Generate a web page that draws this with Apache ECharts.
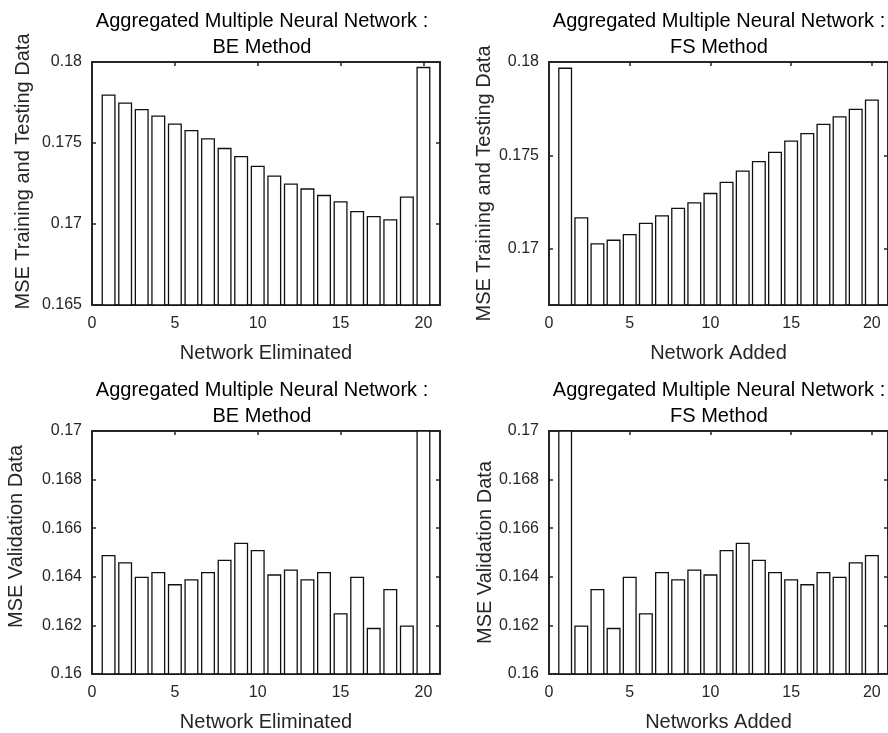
<!DOCTYPE html>
<html>
<head>
<meta charset="utf-8">
<script src="https://cdn.jsdelivr.net/npm/echarts@6/dist/echarts.min.js"></script>
<style>
  html, body { margin: 0; padding: 0; background: #fff; }
  #chart { width: 888px; height: 733px; }
</style>
</head>
<body>
<div id="chart"></div>
<script>
// network index on the x axis
const networks = [1, 2, 3, 4, 5, 6, 7, 8, 9, 10, 11, 12, 13, 14, 15, 16, 17, 18, 19, 20];

// MSE training + testing
const beTrainTest = [0.1780, 0.1775, 0.1771, 0.1767, 0.1762, 0.1758, 0.1753, 0.1747, 0.1742, 0.1736,
                     0.1730, 0.1725, 0.1722, 0.1718, 0.1714, 0.1708, 0.1705, 0.1703, 0.1717, 0.1797];
const fsTrainTest = [0.1797, 0.1717, 0.1703, 0.1705, 0.1708, 0.1714, 0.1718, 0.1722, 0.1725, 0.1730,
                     0.1736, 0.1742, 0.1747, 0.1752, 0.1758, 0.1762, 0.1767, 0.1771, 0.1775, 0.1780];

// MSE validation
const beValidation = [0.1649, 0.1646, 0.1640, 0.1642, 0.1637, 0.1639, 0.1642, 0.1647, 0.1654, 0.1651,
                      0.1641, 0.1643, 0.1639, 0.1642, 0.1625, 0.1640, 0.1619, 0.1635, 0.1620, 0.1735];
const fsValidation = [0.1735, 0.1620, 0.1635, 0.1619, 0.1640, 0.1625, 0.1642, 0.1639, 0.1643, 0.1641,
                      0.1651, 0.1654, 0.1647, 0.1642, 0.1639, 0.1637, 0.1642, 0.1640, 0.1646, 0.1649];

// tick labels
const xTicks = [0, 5, 10, 15, 20];
const yTicksBeTrain = [0.165, 0.17, 0.175, 0.18];
const yTicksFsTrain = [0.17, 0.175, 0.18];
const yTicksValid = [0.16, 0.162, 0.164, 0.166, 0.168, 0.17];

const titleLine1 = 'Aggregated Multiple Neural Network :';

const FONT = '"Liberation Sans", Arial, sans-serif';
const INK = '#262626';
const GW = 348, GH = 243;

const grids = [
  { left: 92, top: 62, width: GW, height: GH },
  { left: 549, top: 62, width: GW, height: GH },
  { left: 92, top: 431, width: GW, height: GH },
  { left: 549, top: 431, width: GW, height: GH }
];

const panels = [
  { title: titleLine1 + '\nBE Method', xName: 'Network Eliminated', yName: 'MSE Training and Testing Data',
    data: beTrainTest, yMin: 0.165, yMax: 0.18, yTicks: yTicksBeTrain, yGap: 59, yPad: 24 },
  { title: titleLine1 + '\nFS Method', xName: 'Network Added', yName: 'MSE Training and Testing Data',
    data: fsTrainTest, yMin: 0.167, yMax: 0.18, yTicks: yTicksFsTrain, yGap: 55, yPad: 0 },
  { title: titleLine1 + '\nBE Method', xName: 'Network Eliminated', yName: 'MSE Validation Data',
    data: beValidation, yMin: 0.16, yMax: 0.17, yTicks: yTicksValid, yGap: 66, yPad: 32 },
  { title: titleLine1 + '\nFS Method', xName: 'Networks Added', yName: 'MSE Validation Data',
    data: fsValidation, yMin: 0.16, yMax: 0.17, yTicks: yTicksValid, yGap: 53, yPad: 0 }
];

const axisLine = { show: true, onZero: false, lineStyle: { color: INK, width: 2 } };
const tick = (vals) => ({ inside: true, length: 4, customValues: vals, lineStyle: { color: INK, width: 1.5 } });

let xAxis = [], yAxis = [], series = [], graphic = [];

panels.forEach((p, i) => {
  // bottom + top x axes
  xAxis.push({
    type: 'value', gridIndex: i, position: 'bottom', min: 0, max: 21,
    name: p.xName, nameLocation: 'middle', nameGap: 38,
    nameTextStyle: { fontFamily: FONT, fontSize: 20, color: INK },
    axisLine: axisLine,
    axisTick: tick(xTicks),
    axisLabel: { customValues: xTicks, margin: 11, fontFamily: FONT, fontSize: 16, color: INK },
    splitLine: { show: false }
  });
  xAxis.push({
    type: 'value', gridIndex: i, position: 'top', min: 0, max: 21,
    axisLine: axisLine,
    axisTick: tick(xTicks),
    axisLabel: { show: false },
    splitLine: { show: false }
  });
  // left + right y axes
  yAxis.push({
    type: 'value', gridIndex: i, position: 'left', min: p.yMin, max: p.yMax,
    name: p.yName, nameLocation: 'middle', nameGap: p.yGap,
    nameTextStyle: { fontFamily: FONT, fontSize: 20, color: INK, padding: [0, 0, 0, p.yPad] },
    axisLine: axisLine,
    axisTick: tick(p.yTicks),
    axisLabel: { customValues: p.yTicks, margin: 10, fontFamily: FONT, fontSize: 16, color: INK },
    splitLine: { show: false }
  });
  yAxis.push({
    type: 'value', gridIndex: i, position: 'right', min: p.yMin, max: p.yMax,
    axisLine: axisLine,
    axisTick: tick(p.yTicks),
    axisLabel: { show: false },
    splitLine: { show: false }
  });

  series.push({
    type: 'bar',
    xAxisIndex: i * 2,
    yAxisIndex: i * 2,
    barWidth: 14,
    clip: true,
    itemStyle: { color: '#fff', borderColor: '#111', borderWidth: 1.3 },
    data: networks.map((n, k) => [n, p.data[k]])
  });

  graphic.push({
    type: 'text',
    x: grids[i].left + GW / 2 - 4,
    y: grids[i].top - 54,
    style: {
      text: p.title, align: 'center', verticalAlign: 'top',
      fontFamily: FONT, fontSize: 20, lineHeight: 26, fill: '#000'
    }
  });
});

const chart = echarts.init(document.getElementById('chart'));
chart.setOption({
  animation: false,
  backgroundColor: '#fff',
  grid: grids,
  xAxis: xAxis,
  yAxis: yAxis,
  series: series,
  graphic: graphic
});
</script>
</body>
</html>
